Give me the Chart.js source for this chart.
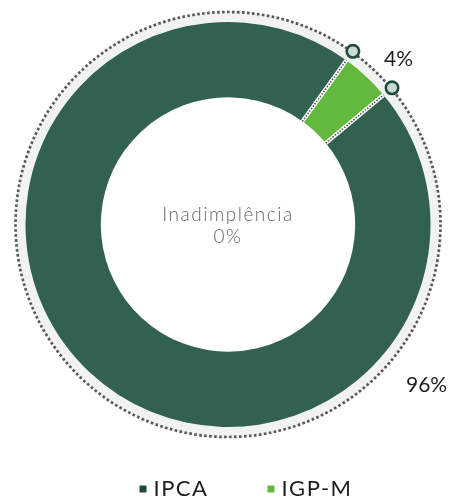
<!DOCTYPE html>
<html>
<head>
<meta charset="utf-8">
<script src="https://cdn.jsdelivr.net/npm/chart.js@4"></script>
<style>
  html, body { margin: 0; padding: 0; background: #fff; }
  #wrap { width: 451px; height: 499px; }
</style>
</head>
<body>
<div id="wrap"><canvas id="myChart"></canvas></div>
<script>
const categorias = ['IPCA', 'IGP-M'];
const valores = [96, 4];
const rotulos = ['96%', '4%'];
const centroTitulo = 'Inadimplência';
const centroValor = '0%';

const cores = ['#336150', '#63b83e'];
const coresLegenda = ['#1f4a3a', '#63b83e'];
// onde cada rótulo fica: fração do arco e distância além do anel
const posRotulo = [{ frac: 0.228, dist: 53 }, { frac: 0.7, dist: 35 }];

const fonte = 'Lato, sans-serif';

const decoracao = {
    id: 'decoracao',
    beforeDatasetsDraw(chart) {
        const arco = chart.getDatasetMeta(0).data[0];
        const { x, y, outerRadius } = arco.getProps(['x', 'y', 'outerRadius'], true);
        const ctx = chart.ctx;
        ctx.save();
        // anel cinza por fora (só a coroa, sem tocar no miolo)
        ctx.beginPath();
        ctx.arc(x, y, outerRadius + 11, 0, Math.PI * 2);
        ctx.arc(x, y, outerRadius - 1, 0, Math.PI * 2, true);
        ctx.fillStyle = '#f1f3f2';
        ctx.fill();
        // borda pontilhada
        ctx.beginPath();
        ctx.arc(x, y, outerRadius + 10, 0, Math.PI * 2);
        ctx.setLineDash([2.6, 2.4]);
        ctx.lineWidth = 2.7;
        ctx.strokeStyle = '#585858';
        ctx.stroke();
        ctx.restore();
    },
    afterDatasetsDraw(chart) {
        const ctx = chart.ctx;
        const arcos = chart.getDatasetMeta(0).data;

        // separadores e marcadores nos limites das fatias
        arcos.forEach((arco) => {
            const p = arco.getProps(['x', 'y', 'startAngle', 'innerRadius', 'outerRadius'], true);
            const c = Math.cos(p.startAngle), s = Math.sin(p.startAngle);
            ctx.save();
            ctx.beginPath();
            ctx.moveTo(p.x + c * p.innerRadius, p.y + s * p.innerRadius);
            ctx.lineTo(p.x + c * p.outerRadius, p.y + s * p.outerRadius);
            ctx.lineWidth = 4;
            ctx.strokeStyle = '#ffffff';
            ctx.stroke();
            ctx.setLineDash([1.5, 1.5]);
            ctx.lineWidth = 1.6;
            ctx.strokeStyle = '#555555';
            ctx.stroke();
            ctx.setLineDash([]);

            const r = p.outerRadius + 11;
            ctx.beginPath();
            ctx.arc(p.x + c * r, p.y + s * r, 6.2, 0, Math.PI * 2);
            ctx.fillStyle = '#cfd9d4';
            ctx.fill();
            ctx.lineWidth = 2.6;
            ctx.strokeStyle = '#1f4d3b';
            ctx.stroke();
            ctx.restore();
        });

        // rótulos de porcentagem
        ctx.save();
        ctx.font = '400 21px ' + fonte;
        ctx.fillStyle = '#1e1e1e';
        ctx.textAlign = 'center';
        ctx.textBaseline = 'middle';
        arcos.forEach((arco, i) => {
            const p = arco.getProps(['x', 'y', 'startAngle', 'endAngle', 'outerRadius'], true);
            const a = p.startAngle + (p.endAngle - p.startAngle) * posRotulo[i].frac;
            const r = p.outerRadius + posRotulo[i].dist;
            ctx.fillText(rotulos[i], p.x + Math.cos(a) * r, p.y + Math.sin(a) * r);
        });
        ctx.restore();

        // texto central
        const { x, y } = arcos[0].getProps(['x', 'y'], true);
        ctx.save();
        ctx.font = '300 19px ' + fonte;
        ctx.letterSpacing = '1.5px';
        ctx.fillStyle = '#666666';
        ctx.textAlign = 'center';
        ctx.textBaseline = 'middle';
        ctx.fillText(centroTitulo, x, y - 10);
        ctx.fillText(centroValor, x, y + 12);
        ctx.restore();

        // legenda
        ctx.save();
        ctx.font = '400 22px ' + fonte;
        ctx.letterSpacing = '1.5px';
        ctx.textBaseline = 'middle';
        const caixa = 7, folga = 7, entre = 59, yLeg = 489;
        const larguras = categorias.map((t) => ctx.measureText(t).width);
        const total = larguras.reduce((s, w) => s + caixa + folga + w, 0) + entre * (categorias.length - 1);
        let xLeg = 246 - total / 2;
        categorias.forEach((t, i) => {
            ctx.fillStyle = coresLegenda[i];
            ctx.fillRect(xLeg, yLeg - caixa / 2, caixa, caixa);
            ctx.fillStyle = '#1e1e1e';
            ctx.fillText(t, xLeg + caixa + folga, yLeg);
            xLeg += caixa + folga + larguras[i] + entre;
        });
        ctx.restore();
    }
};

const grafico = new Chart(document.getElementById('myChart'), {
    type: 'doughnut',
    data: {
        labels: categorias,
        datasets: [{
            data: valores,
            backgroundColor: cores,
            borderWidth: 0,
            hoverOffset: 0
        }]
    },
    options: {
        responsive: true,
        maintainAspectRatio: false,
        animation: false,
        cutout: '62.8%',
        rotation: 50.2,
        layout: { padding: { top: 22, bottom: 72, left: 25, right: 20 } },
        plugins: {
            legend: { display: false },
            tooltip: { enabled: false }
        }
    },
    plugins: [decoracao]
});
</script>
</body>
</html>
